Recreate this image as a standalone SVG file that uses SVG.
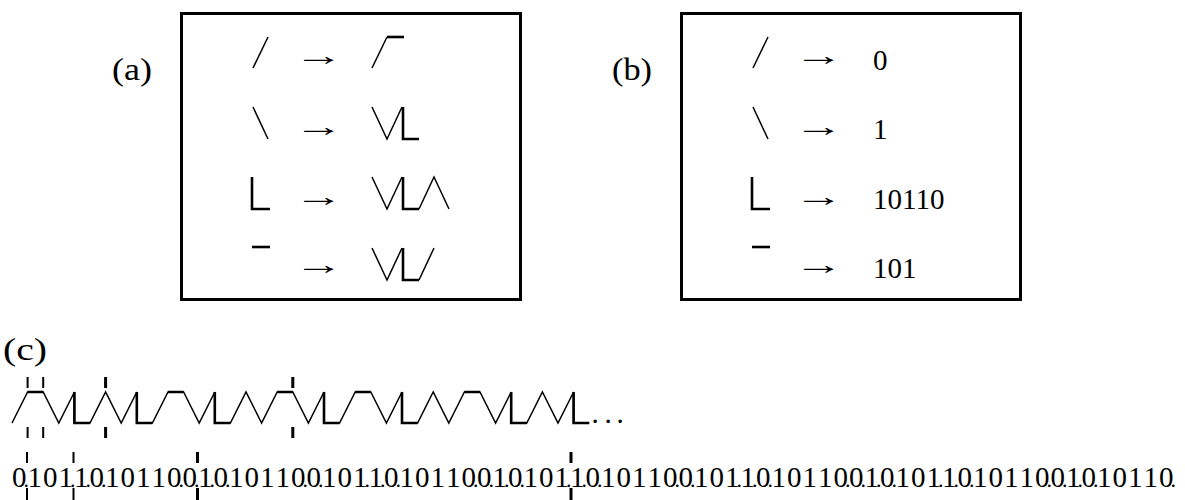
<svg xmlns="http://www.w3.org/2000/svg" width="1185" height="500" viewBox="0 0 1185 500">
<style>
.box{fill:none;stroke:#000;stroke-width:3}
.tn{fill:none;stroke:#000;stroke-width:1.5;stroke-linejoin:miter}
.tk{fill:none;stroke:#000;stroke-width:2.6;stroke-linejoin:miter}
.tick{stroke:#000;stroke-width:2}
.tick3{stroke:#000;stroke-width:3}
.t{font-family:"Liberation Serif","Times New Roman",serif;font-size:29px;fill:#000}
.ar{font-family:"Liberation Serif","Times New Roman",serif;font-size:29px;fill:#000}
.lab{font-family:"Liberation Serif","Times New Roman",serif;font-size:31px;fill:#000}
</style>
<rect width="1185" height="500" fill="#fff"/>
<g id="panel-a">
<text class="lab" x="112" y="80" textLength="40" lengthAdjust="spacingAndGlyphs">(a)</text>
<rect class="box" x="181.5" y="13.5" width="339" height="286"/>
<path class="tn" d="M253,68L268,37"/>
<path class="tn" d="M253,107L268,139"/>
<path class="tk" d="M252,177V209H270"/>
<path class="tk" d="M252,247H270"/>
<text class="ar" transform="translate(294,65) scale(1.7,1)">→</text>
<text class="ar" transform="translate(294,136) scale(1.7,1)">→</text>
<text class="ar" transform="translate(294,206) scale(1.7,1)">→</text>
<text class="ar" transform="translate(294,274) scale(1.7,1)">→</text>
<path class="tn" d="M372,68L387,37"/><path class="tk" d="M387,37H404"/>
<path class="tn" d="M372,107L387,139L402,107"/><path class="tk" d="M403,107V139H419"/>
<path class="tn" d="M372,177L387,209L402,177"/><path class="tk" d="M403,177V209H419"/><path class="tn" d="M419,209L434,177L449,209"/>
<path class="tn" d="M372,248L387,280L402,248"/><path class="tk" d="M403,248V280H419"/><path class="tn" d="M419,280L434,248"/>
</g>
<g id="panel-b">
<text class="lab" x="612" y="80" textLength="40" lengthAdjust="spacingAndGlyphs">(b)</text>
<rect class="box" x="681.5" y="13.5" width="339" height="286"/>
<path class="tn" d="M753,68L768,37"/>
<path class="tn" d="M753,107L768,139"/>
<path class="tk" d="M752,177V209H770"/>
<path class="tk" d="M752,247H770"/>
<text class="ar" transform="translate(794,65) scale(1.7,1)">→</text>
<text class="ar" transform="translate(794,136) scale(1.7,1)">→</text>
<text class="ar" transform="translate(794,206) scale(1.7,1)">→</text>
<text class="ar" transform="translate(794,274) scale(1.7,1)">→</text>
<text class="t" x="873" y="70">0</text>
<text class="t" x="873" y="139">1</text>
<text class="t" x="873" y="209">10110</text>
<text class="t" x="873" y="278">101</text>
</g>
<g id="panel-c">
<text class="lab" x="3" y="360" textLength="44" lengthAdjust="spacingAndGlyphs">(c)</text>
<path class="tn" d="M12,423L27.6,392H43.2L58.8,423L74.4,392V423H90L105.6,392L121.2,423L136.8,392V423H152.4L168,392H183.6L199.2,423L214.8,392V423H230.4L246,392L261.6,423L277.2,392H292.8L308.4,423L324,392V423H339.6L355.2,392H370.8L386.4,423L402,392V423H417.6L433.2,392L448.8,423L464.4,392H480L495.6,423L511.2,392V423H526.8L542.4,392L558,423L573.6,392V423H589.2"/>
<path class="tk" d="M27.6,392H43.2M168,392H183.6M277.2,392H292.8M355.2,392H370.8M464.4,392H480M74.4,392V423H90M136.8,392V423H152.4M214.8,392V423H230.4M324,392V423H339.6M402,392V423H417.6M511.2,392V423H526.8M573.6,392V423H589.2"/>
<text class="t" x="595 608 620" y="423" text-anchor="middle">...</text>
<path class="tick" d="M27.6,377V388M43.2,377V388M27.6,427V438M43.2,427V438"/>
<path class="tick3" d="M105.6,377V388M292.8,377V388M105.6,427V438M292.8,427V438"/>
<text class="t" y="487" text-anchor="middle" x="19.3 34.8 50.3 65.8 81.3 96.8 112.3 127.8 143.3 158.8 174.3 189.8 205.3 220.8 236.3 251.8 267.3 282.8 298.3 313.8 329.3 344.8 360.3 375.8 391.3 406.8 422.3 437.8 453.3 468.8 484.3 499.8 515.3 530.8 546.3 561.8 577.3 592.8 608.3 623.8 639.3 654.8 670.3 685.8 701.3 716.8 732.3 747.8 763.3 778.8 794.3 809.8 825.3 840.8 856.3 871.8 887.3 902.8 918.3 933.8 949.3 964.8 980.3 995.8 1011.3 1026.8 1042.3 1057.8 1073.3 1088.8 1104.3 1119.8 1135.3 1150.8 1166.3">010110101100101011001011010110010101101011001011010110010101101011001010110</text>
<text class="t" y="487" text-anchor="middle" style="font-size:22px" x="26.3 72.8 88.3 103.8 181.3 196.8 212.3 227.8 305.3 320.8 367.3 382.8 398.3 475.8 491.3 506.8 522.3 568.8 584.3 599.8 677.3 692.8 739.3 754.8 770.3 847.8 863.3 878.8 894.3 940.8 956.3 971.8 1049.3 1064.8 1080.3 1095.8 1173.3">.....................................</text>
<path class="tick" d="M27,452V463M73.5,452V463M27,488V500M73.5,488V500"/>
<path class="tick3" d="M197.5,452V463M571,452V463M197.5,488V500M571,488V500"/>
</g>
</svg>
